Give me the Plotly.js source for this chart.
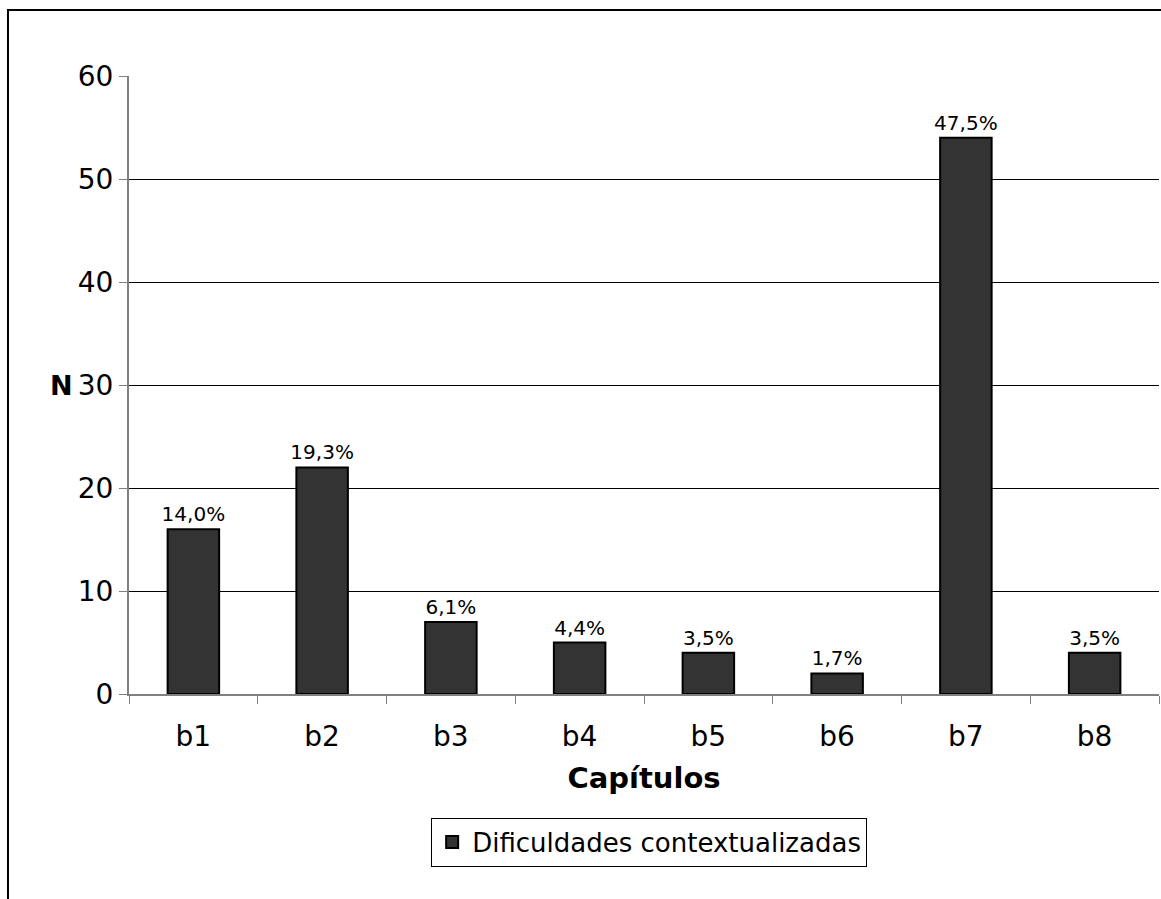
<!DOCTYPE html>
<html>
<head>
<meta charset="utf-8">
<script src="https://cdn.plot.ly/plotly-3.0.1.min.js"></script>
<style>
html,body{margin:0;padding:0;background:#fff;}
#chart{width:1161px;height:899px;}
</style>
</head>
<body>
<div id="chart"></div>
<script>
const categories = ["b1","b2","b3","b4","b5","b6","b7","b8"];
const counts = [16, 22, 7, 5, 4, 2, 54, 4];
const percentLabels = ["14,0%","19,3%","6,1%","4,4%","3,5%","1,7%","47,5%","3,5%"];
const yTicks = [0,10,20,30,40,50,60];
const seriesName = "Dificuldades contextualizadas";

const font = "DejaVu Sans, Verdana, sans-serif";

const trace = {
  type: "bar",
  x: categories,
  y: counts,
  name: seriesName,
  text: percentLabels,
  textposition: "outside",
  constraintext: "none",
  textfont: {family: font, size: 20, color: "#000"},
  cliponaxis: false,
  width: 0.4,
  marker: {color: "#333333", line: {color: "#000", width: 2}},
  showlegend: true,
  hoverinfo: "none"
};

const layout = {
  width: 1161,
  height: 899,
  margin: {l: 129, r: 2, t: 76, b: 205},
  paper_bgcolor: "#fff",
  plot_bgcolor: "#fff",
  font: {family: font, color: "#000"},
  bargap: 0.6,
  xaxis: {
    type: "category",
    showline: true,
    linecolor: "#808080",
    linewidth: 2,
    ticks: "outside",
    tickson: "boundaries",
    ticklen: 8,
    tickcolor: "#808080",
    tickwidth: 1,
    showgrid: false,
    tickfont: {family: font, size: 28},
    ticklabelstandoff: 16,
    title: {text: "<b>Capítulos</b>", font: {family: font, size: 29}, standoff: 16},
    fixedrange: true
  },
  yaxis: {
    range: [0, 60],
    tickvals: yTicks,
    showline: true,
    linecolor: "#808080",
    linewidth: 2,
    ticks: "outside",
    ticklen: 8,
    tickcolor: "#808080",
    showgrid: true,
    gridcolor: "#000",
    gridwidth: 1,
    zeroline: false,
    tickfont: {family: font, size: 28},
    fixedrange: true
  },
  legend: {
    x: 0.505,
    xanchor: "center",
    y: -0.2,
    yanchor: "top",
    orientation: "h",
    bordercolor: "#000",
    borderwidth: 1,
    bgcolor: "#fff",
    font: {family: font, size: 26}
  },
  annotations: [{
    text: "<b>N</b>",
    xref: "paper", yref: "paper",
    x: -0.052, y: 0.5,
    xanchor: "right", yanchor: "middle",
    showarrow: false,
    font: {family: font, size: 27}
  }],
  shapes: [{
    type: "path",
    xref: "paper", yref: "paper",
    path: "M -0.1175 -0.4 L -0.1175 1.1068 L 1.05 1.1068",
    line: {color: "#000", width: 2}
  }]
};

Plotly.newPlot("chart", [trace], layout, {displayModeBar: false, staticPlot: true});
</script>
</body>
</html>
